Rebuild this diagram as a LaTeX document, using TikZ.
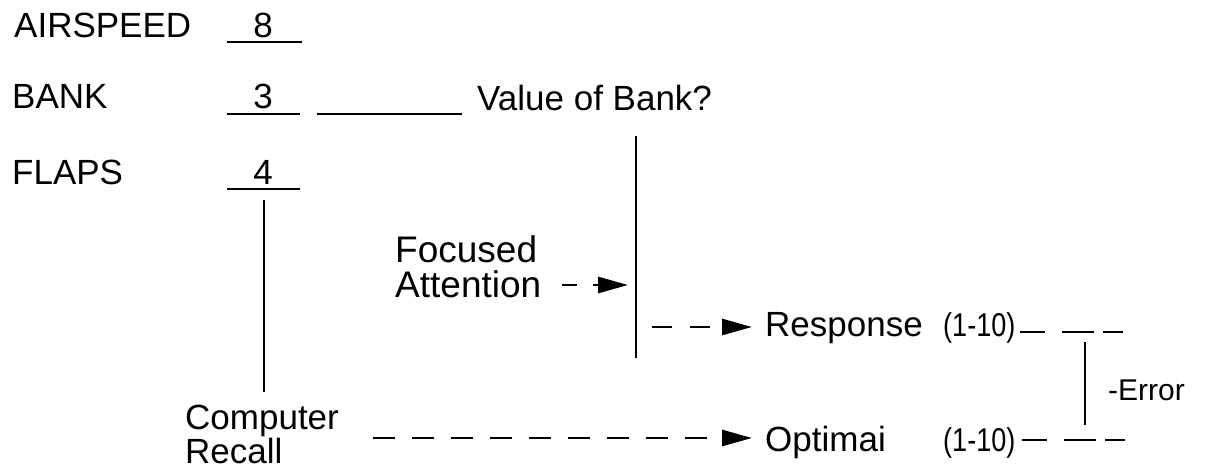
\documentclass[tikz,border=0pt]{standalone}
\usepackage{fontspec}
\usepackage{graphicx}
\setmainfont{Liberation Sans}
\usetikzlibrary{arrows.meta}
\begin{document}
\begin{tikzpicture}[x=1pt,y=-1pt,
  lbl/.style={anchor=base west,inner sep=0pt,font=\fontsize{35}{40}\selectfont},
  smalllbl/.style={lbl,font=\fontsize{30}{34}\selectfont},
  rng/.style={lbl,font=\fontsize{33}{36}\selectfont},
  num/.style={anchor=base,inner sep=0pt,font=\fontsize{35}{40}\selectfont},
  ln/.style={line width=2.8pt},
  arr/.style={-{Triangle[length=30pt,width=16pt]}},
  longdash/.style={dash pattern=on 22pt off 17pt},
  trail/.style={ln,dash pattern=on 25pt off 17pt on 32pt off 9pt on 20pt off 50pt},
]
\useasboundingbox (0,0) rectangle (1206,469);

% instrument labels and values
\node[lbl] (air) at (14,37) {AIRSPEED};
\node[num] (v8) at (263,37) {8};
\node[lbl] (bank) at (12,108) {BANK};
\node[num] (v3) at (263,108) {3};
\node[lbl] (flaps) at (12,184) {FLAPS};
\node[num] (v4) at (263,184) {4};

\coordinate (u8a) at (227,42);  \coordinate (u8b) at (302,42);
\coordinate (u3a) at (227,114); \coordinate (u3b) at (300,114);
\coordinate (u4a) at (227,189); \coordinate (u4b) at (300,189);
\draw[ln] (u8a) -- (u8b);
\draw[ln] (u3a) -- (u3b);
\draw[ln] (u4a) -- (u4b);

% question
\node[lbl] (val) at (477,110) {Value of Bank?};
\coordinate (bl1) at (317,114); \coordinate (bl2) at (462,114);
\draw[ln] (bl1) -- (bl2);

\coordinate (vt) at (636,136); \coordinate (vb) at (636,358);
\draw[ln] (vt) -- (vb);

% focused attention
\node[anchor=north west,inner sep=0pt,align=left,font=\fontsize{37}{35}\selectfont] (fa) at (395,235) {Focused\\Attention};
\coordinate (faS) at (562,285); \coordinate (faT) at (628,285);
\draw[ln,arr,dash pattern=on 15pt off 16pt] (faS) -- (faT);

% response row
\node[lbl] (resp) at (765,336) {Response};
\node[rng] (r1) at (943,336) {\scalebox{0.82}[1]{(1-10)}};
\coordinate (raS) at (652,327); \coordinate (raT) at (752,327);
\draw[ln,arr,dash pattern=on 20pt off 18pt] (raS) -- (raT);
\coordinate (rtS) at (1020,332); \coordinate (rtE) at (1123,332);
\draw[trail] (rtS) -- (rtE);

% computer recall
\coordinate (ft) at (264,200); \coordinate (fb) at (264,392);
\draw[ln] (ft) -- (fb);
\node[anchor=north west,inner sep=0pt,align=left,font=\fontsize{35}{31}\selectfont] (cr) at (185,405) {Computer\\Recall};
\coordinate (caS) at (373,438); \coordinate (caT) at (752,438);
\draw[ln,arr,longdash] (caS) -- (caT);

% optimal row
\node[lbl] (opt) at (765,451) {Optimai};
\node[rng] (o1) at (943,451) {\scalebox{0.82}[1]{(1-10)}};
\coordinate (otS) at (1022,440); \coordinate (otE) at (1125,440);
\draw[trail] (otS) -- (otE);

% error
\coordinate (et) at (1085,342); \coordinate (eb) at (1085,425);
\draw[ln] (et) -- (eb);
\node[smalllbl] (err) at (1108,400) {-Error};
\end{tikzpicture}
\end{document}
